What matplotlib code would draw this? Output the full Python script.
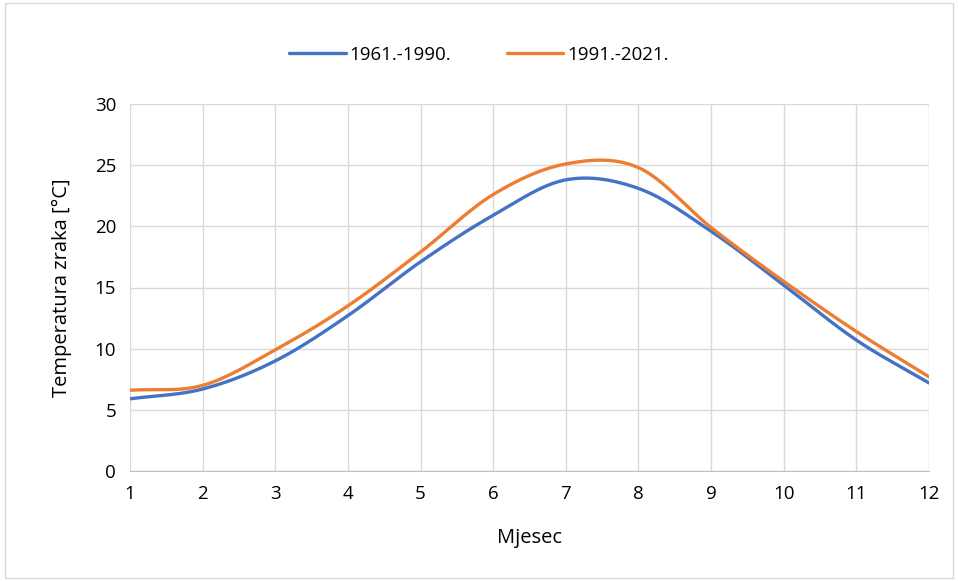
import numpy as np
import matplotlib.pyplot as plt

months = [1, 2, 3, 4, 5, 6, 7, 8, 9, 10, 11, 12]
t_1961_1990 = [5.9, 6.7, 9.0, 12.7, 17.1, 20.9, 23.8, 23.1, 19.6, 15.2, 10.7, 7.2]
t_1991_2021 = [6.6, 7.0, 9.9, 13.5, 17.9, 22.6, 25.1, 24.8, 19.9, 15.5, 11.4, 7.7]
labels = ['1961.-1990.', '1991.-2021.']
colors = ['#4472C4', '#ED7D31']


def smooth(x, y, n=30):
    # catmull-rom style smoothing, similar to Excel's smoothed line
    x = np.asarray(x, float)
    y = np.asarray(y, float)
    px = np.concatenate([[2 * x[0] - x[1]], x, [2 * x[-1] - x[-2]]])
    py = np.concatenate([[2 * y[0] - y[1]], y, [2 * y[-1] - y[-2]]])
    xs, ys = [], []
    t = np.linspace(0, 1, n)
    for i in range(1, len(px) - 2):
        p0, p1, p2, p3 = [np.array([px[j], py[j]]) for j in range(i - 1, i + 3)]
        c1 = p1 + (p2 - p0) / 6
        c2 = p2 - (p3 - p1) / 6
        pts = ((1 - t)[:, None] ** 3 * p1 + 3 * ((1 - t) ** 2 * t)[:, None] * c1
               + 3 * ((1 - t) * t ** 2)[:, None] * c2 + (t ** 3)[:, None] * p2)
        xs.extend(pts[:, 0])
        ys.extend(pts[:, 1])
    return np.array(xs), np.array(ys)


plt.rcParams['font.family'] = ['Open Sans', 'DejaVu Sans']
fig = plt.figure(figsize=(9.58, 5.81), dpi=100)
ax = fig.add_axes([130 / 958, 1 - 471 / 581, 799 / 958, 367 / 581])

for vals, lab, col in zip([t_1961_1990, t_1991_2021], labels, colors):
    sx, sy = smooth(months, vals)
    ax.plot(sx, sy, color=col, lw=2.4, label=lab, solid_capstyle='round')

ax.set_xlim(1, 12)
ax.set_ylim(0, 30)
ax.set_xticks(months)
ax.set_yticks(range(0, 31, 5))
ax.grid(True, color='#D9D9D9', lw=1)
ax.set_axisbelow(True)
for s in ['top', 'right', 'left']:
    ax.spines[s].set_visible(False)
ax.spines['bottom'].set_color('#BFBFBF')
ax.tick_params(length=0, labelsize=13.5, colors='#000000', pad=10)
ax.set_xlabel('Mjesec', fontsize=14.5, labelpad=18)
ax.set_ylabel('Temperatura zraka [°C]', fontsize=14.5, labelpad=16)

fig.legend(loc='center', bbox_to_anchor=(0.5, 1 - 55 / 581), ncol=2, frameon=False,
           fontsize=13.5, handlelength=3.0, handletextpad=0.2, columnspacing=3.0)

border = plt.Rectangle((0.005, 0.005), 0.99, 0.99, transform=fig.transFigure,
                       fill=False, edgecolor='#D9D9D9', lw=1)
fig.patches.append(border)

fig.savefig('out.png', dpi=100)
